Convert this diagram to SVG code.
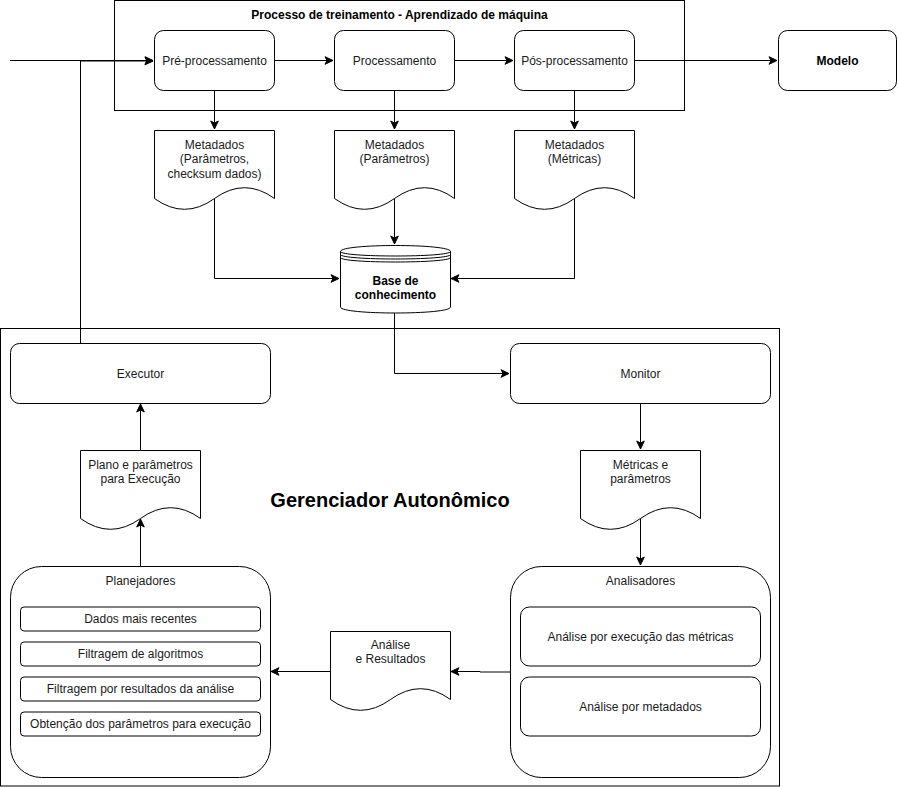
<svg xmlns="http://www.w3.org/2000/svg" width="898" height="787" viewBox="0 0 898 787">
<style>
.box{fill:#fff;stroke:#000;stroke-width:1}
.cont{fill:none;stroke:#000;stroke-width:1}
.t{font-family:"Liberation Sans",Arial,sans-serif;font-size:12px;fill:#1a1a1a;text-anchor:middle}
.b{font-weight:bold;fill:#000}
.big{font-family:"Liberation Sans",Arial,sans-serif;font-size:20px;font-weight:bold;fill:#000;text-anchor:middle}
.e{fill:none;stroke:#000;stroke-width:1}
.ea{fill:none;stroke:#000;stroke-width:1;marker-end:url(#arr)}
</style>
<defs>
<marker id="arr" markerUnits="userSpaceOnUse" markerWidth="10" markerHeight="10" viewBox="0 0 10 10" refX="9" refY="5" orient="auto">
<path d="M1,1.2 L9,5 L1,8.8 L3,5 Z" fill="#000" stroke="#000" stroke-width="1"/>
</marker>
</defs>

<rect id="training-container" class="cont" x="114.5" y="0.5" width="570" height="110"/>
<text class="t b" x="399.5" y="19">Processo de treinamento - Aprendizado de máquina</text>

<rect id="manager-container" class="cont" x="0.5" y="328.5" width="779" height="457.5"/>
<text class="big" x="390" y="507">Gerenciador Autonômico</text>

<g id="connectors">
<path class="ea" d="M10,60.5 H153"/>
<path class="ea" d="M80.5,343 V61 H153"/>
<path class="ea" d="M274,60.5 H333"/>
<path class="ea" d="M454,60.5 H513"/>
<path class="ea" d="M634,60.5 H777"/>
<path class="ea" d="M214.5,90 V129"/>
<path class="ea" d="M394.5,90 V129"/>
<path class="ea" d="M574.5,90 V129"/>
<path class="ea" d="M214.5,198 V278.5 H339"/>
<path class="ea" d="M394.5,198 V244"/>
<path class="ea" d="M574.5,198 V278.5 H451"/>
<path class="ea" d="M394.5,313 V373.5 H509"/>
<path class="ea" d="M640.5,403 V449"/>
<path class="ea" d="M640.5,518 V565"/>
<path class="ea" d="M510,672 H480 V671.5 H451"/>
<path class="ea" d="M330,671.5 H271"/>
<path class="ea" d="M140.5,566 V519"/>
<path class="ea" d="M140.5,450 V404"/>
</g>

<g id="pre-processamento">
<rect class="box" x="154.5" y="30.5" width="120" height="60" rx="9"/>
<text class="t" x="214.5" y="64.5">Pré-processamento</text>
</g>
<g id="processamento">
<rect class="box" x="334.5" y="30.5" width="120" height="60" rx="9"/>
<text class="t" x="394.5" y="64.5">Processamento</text>
</g>
<g id="pos-processamento">
<rect class="box" x="514.5" y="30.5" width="120" height="60" rx="9"/>
<text class="t" x="574.5" y="64.5">Pós-processamento</text>
</g>
<g id="modelo">
<rect class="box" x="778.5" y="30.5" width="118" height="60" rx="9"/>
<text class="t b" x="837.5" y="64.5">Modelo</text>
</g>

<g id="metadados-pre">
<path class="box" d="M154.5,130.5 H274.5 V198.5 Q244.5,176.9 214.5,198.5 Q184.5,220.1 154.5,198.5 Z"/>
<text class="t" x="214.5" y="148.5">Metadados</text>
<text class="t" x="214.5" y="163">(Parâmetros,</text>
<text class="t" x="214.5" y="177.5">checksum dados)</text>
</g>
<g id="metadados-proc">
<path class="box" d="M334.5,130.5 H454.5 V198.5 Q424.5,176.9 394.5,198.5 Q364.5,220.1 334.5,198.5 Z"/>
<text class="t" x="394.5" y="148.5">Metadados</text>
<text class="t" x="394.5" y="163">(Parâmetros)</text>
</g>
<g id="metadados-pos">
<path class="box" d="M514.5,130.5 H634.5 V198.5 Q604.5,176.9 574.5,198.5 Q544.5,220.1 514.5,198.5 Z"/>
<text class="t" x="574.5" y="148.5">Metadados</text>
<text class="t" x="574.5" y="163">(Métricas)</text>
</g>

<g id="base-conhecimento">
<path class="box" d="M340.5,251.5 C340.5,243.5 450.5,243.5 450.5,251.5 V307 C450.5,315 340.5,315 340.5,307 Z"/>
<path class="e" d="M340.5,251.5 C340.5,257.5 450.5,257.5 450.5,251.5"/>
<path class="e" d="M340.5,254.5 C340.5,260.5 450.5,260.5 450.5,254.5"/>
<path class="e" d="M340.5,257.5 C340.5,263.5 450.5,263.5 450.5,257.5"/>
<text class="t b" x="395.5" y="285">Base de</text>
<text class="t b" x="395.5" y="299">conhecimento</text>
</g>

<g id="executor">
<rect class="box" x="10.5" y="343.5" width="260" height="60" rx="9"/>
<text class="t" x="140.5" y="377.5">Executor</text>
</g>
<g id="monitor">
<rect class="box" x="510.5" y="343.5" width="260" height="60" rx="9"/>
<text class="t" x="640.5" y="377.5">Monitor</text>
</g>

<g id="plano-parametros">
<path class="box" d="M80.5,450.5 H200.5 V518.5 Q170.5,496.9 140.5,518.5 Q110.5,540.1 80.5,518.5 Z"/>
<text class="t" x="140.5" y="468.5">Plano e parâmetros</text>
<text class="t" x="140.5" y="482.5">para Execução</text>
</g>
<g id="metricas-parametros">
<path class="box" d="M580.5,450.5 H700.5 V518.5 Q670.5,496.9 640.5,518.5 Q610.5,540.1 580.5,518.5 Z"/>
<text class="t" x="640.5" y="468.5">Métricas e</text>
<text class="t" x="640.5" y="482.5">parâmetros</text>
</g>
<g id="analise-resultados">
<path class="box" d="M330.5,631.5 H450.5 V699.5 Q420.5,677.9 390.5,699.5 Q360.5,721.1 330.5,699.5 Z"/>
<text class="t" x="390.5" y="649">Análise</text>
<text class="t" x="390.5" y="663">e Resultados</text>
</g>

<g id="planejadores">
<rect class="box" x="10.5" y="566.5" width="260" height="211" rx="31"/>
<text class="t" x="140.5" y="584.5">Planejadores</text>
<rect class="box" x="20.5" y="607" width="240" height="24" rx="3.6"/>
<text class="t" x="140.5" y="623">Dados mais recentes</text>
<rect class="box" x="20.5" y="642" width="240" height="24" rx="3.6"/>
<text class="t" x="140.5" y="658">Filtragem de algoritmos</text>
<rect class="box" x="20.5" y="677" width="240" height="24" rx="3.6"/>
<text class="t" x="140.5" y="693">Filtragem por resultados da análise</text>
<rect class="box" x="20.5" y="712" width="240" height="24" rx="3.6"/>
<text class="t" x="140.5" y="728">Obtenção dos parâmetros para execução</text>
</g>

<g id="analisadores">
<rect class="box" x="510.5" y="566.5" width="260" height="211" rx="31"/>
<text class="t" x="640.5" y="584.5">Analisadores</text>
<rect class="box" x="520.5" y="607" width="240" height="59" rx="8.9"/>
<text class="t" x="640.5" y="640.5">Análise por execução das métricas</text>
<rect class="box" x="520.5" y="677" width="240" height="59" rx="8.9"/>
<text class="t" x="640.5" y="710.5">Análise por metadados</text>
</g>
</svg>
